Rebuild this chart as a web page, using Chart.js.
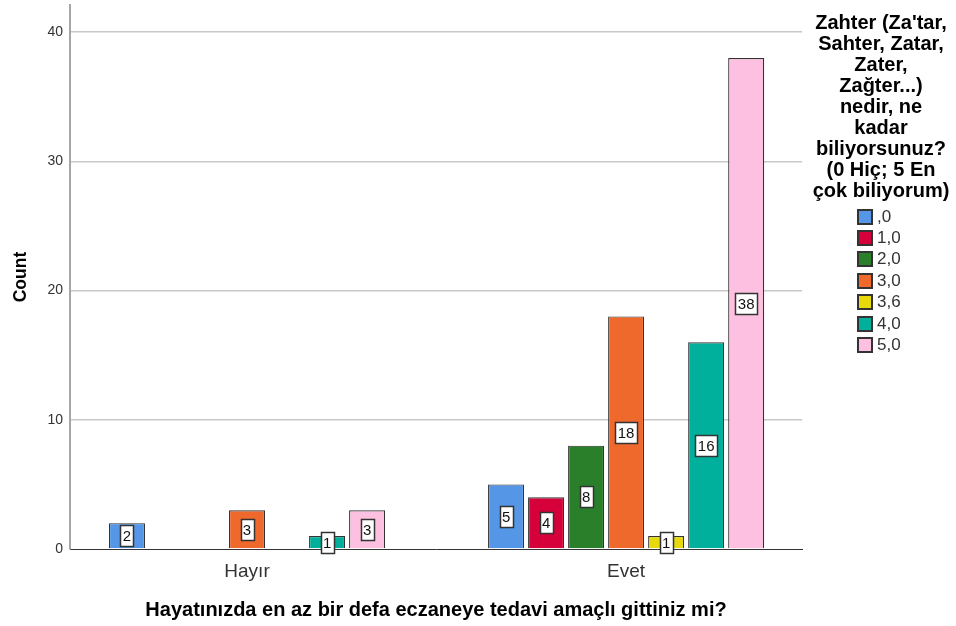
<!DOCTYPE html>
<html>
<head>
<meta charset="utf-8">
<script src="https://cdn.jsdelivr.net/npm/chart.js@4"></script>
<style>
  body { margin: 0; background: #fff; font-family: "Liberation Sans", Arial, sans-serif; }
  #wrap { position: relative; width: 956px; height: 626px; }
  #legend { position: absolute; left: 806px; top: 12px; width: 150px; }
  #legend .title { font-weight: bold; font-size: 20px; line-height: 21px; text-align: center; color: #000; white-space: nowrap; }
  #legend .items { margin-top: 5px; margin-left: 51px; }
  #legend .item { height: 21.4px; font-size: 17px; color: #333; display: flex; align-items: center; }
  #legend .box { width: 12px; height: 12px; border: 2px solid #333; margin-right: 4px; }
</style>
</head>
<body>
<div id="wrap">
  <canvas id="myChart" width="956" height="626"></canvas>
  <div id="legend"></div>
</div>
<script>
const categories = ["Hayır", "Evet"];
const seriesNames = [",0", "1,0", "2,0", "3,0", "3,6", "4,0", "5,0"];
const seriesColors = ["#5596e6", "#d6003a", "#2a7f2a", "#f0692c", "#e8d90c", "#00b09c", "#fdc0e0"];
// counts per series: [Hayır, Evet]
const v0 = [2, 5];
const v1 = [null, 4];
const v2 = [null, 8];
const v3 = [3, 18];
const v36 = [null, 1];
const v4 = [1, 16];
const v5 = [3, 38];
const yTicks = [0, 10, 20, 30, 40];
const legendTitle = ["Zahter (Za'tar,", "Sahter, Zatar,", "Zater,", "Zağter...)", "nedir, ne", "kadar", "biliyorsunuz?", "(0 Hiç; 5 En", "çok biliyorum)"];

const allValues = [v0, v1, v2, v3, v36, v4, v5];
const FONT = "'Liberation Sans', Arial, sans-serif";

const datasets = allValues.map((vals, s) => ({
  label: seriesNames[s],
  data: vals.map((v, i) => ({ x: i, y: v })),
  backgroundColor: seriesColors[s],
  borderColor: "#333",
  borderWidth: 1.2,
  categoryPercentage: 0.739,
  barPercentage: 0.9,
}));

// white boxed counts in the middle of each bar
const barLabels = {
  id: "barLabels",
  afterDatasetsDraw(chart) {
    const ctx = chart.ctx;
    ctx.save();
    ctx.font = "15px " + FONT;
    ctx.textAlign = "center";
    ctx.textBaseline = "middle";
    chart.data.datasets.forEach((ds, di) => {
      chart.getDatasetMeta(di).data.forEach((el, i) => {
        const v = ds.data[i].y;
        if (v == null) return;
        const t = String(v);
        const w = Math.round(ctx.measureText(t).width + 5);
        const h = 21;
        const x0 = Math.round(el.x - w / 2) + 0.5;
        const y0 = Math.round((el.y + el.base) / 2 - h / 2) + 0.5;
        ctx.fillStyle = "#fff";
        ctx.fillRect(x0, y0, w, h);
        ctx.strokeStyle = "#333";
        ctx.lineWidth = 1.5;
        ctx.strokeRect(x0, y0, w, h);
        ctx.fillStyle = "#111";
        ctx.fillText(t, el.x, y0 + h / 2 + 1);
      });
    });
    ctx.restore();
  },
};

new Chart(document.getElementById("myChart"), {
  type: "bar",
  data: { datasets: datasets },
  plugins: [barLabels],
  options: {
    responsive: false,
    animation: false,
    layout: { padding: { top: 5, right: 154, bottom: 0, left: 0 } },
    plugins: { legend: { display: false }, tooltip: { enabled: false } },
    scales: {
      x: {
        type: "linear",
        offset: false,
        min: -0.467,
        max: 1.464,
        afterBuildTicks: (scale) => {
          scale.ticks = categories.map((c, i) => ({ value: i }));
        },
        afterFit: (scale) => {
          scale.height = 77;
          scale.paddingLeft = 0;
          scale.paddingRight = 0;
        },
        ticks: {
          callback: (v) => categories[v],
          font: { size: 19, family: FONT },
          color: "#333",
          padding: 11,
          maxRotation: 0,
          autoSkip: false,
        },
        grid: { display: false, drawTicks: false, offset: false },
        border: { display: true, color: "#333", width: 1 },
        title: {
          display: true,
          text: "Hayatınızda en az bir defa eczaneye tedavi amaçlı gittiniz mi?",
          font: { size: 20, weight: "bold", family: FONT },
          color: "#000",
          padding: { top: 0, bottom: 4 },
        },
      },
      y: {
        min: 0,
        max: 42.1,
        afterBuildTicks: (scale) => {
          scale.ticks = yTicks.map((v) => ({ value: v }));
        },
        afterFit: (scale) => {
          scale.width = 70;
          scale.paddingTop = 0;
          scale.paddingBottom = 0;
        },
        ticks: {
          font: { size: 14, family: FONT },
          color: "#333",
          padding: 7,
        },
        grid: {
          drawTicks: false,
          color: (c) => (c.tick && c.tick.value === 0 ? "rgba(0,0,0,0)" : "#c8c8c8"),
          lineWidth: 1.5,
        },
        border: { display: true, color: "#a6a6a6", width: 2 },
        title: {
          display: true,
          text: "Count",
          font: { size: 17.5, weight: "bold", family: FONT },
          color: "#000",
          padding: { top: 11, bottom: 0 },
        },
      },
    },
  },
});

// legend
const legend = document.getElementById("legend");
let html = '<div class="title">' + legendTitle.join("<br>") + "</div><div class=\"items\">";
seriesNames.forEach((n, i) => {
  html += '<div class="item"><span class="box" style="background:' + seriesColors[i] + '"></span>' + n + "</div>";
});
html += "</div>";
legend.innerHTML = html;
</script>
</body>
</html>
